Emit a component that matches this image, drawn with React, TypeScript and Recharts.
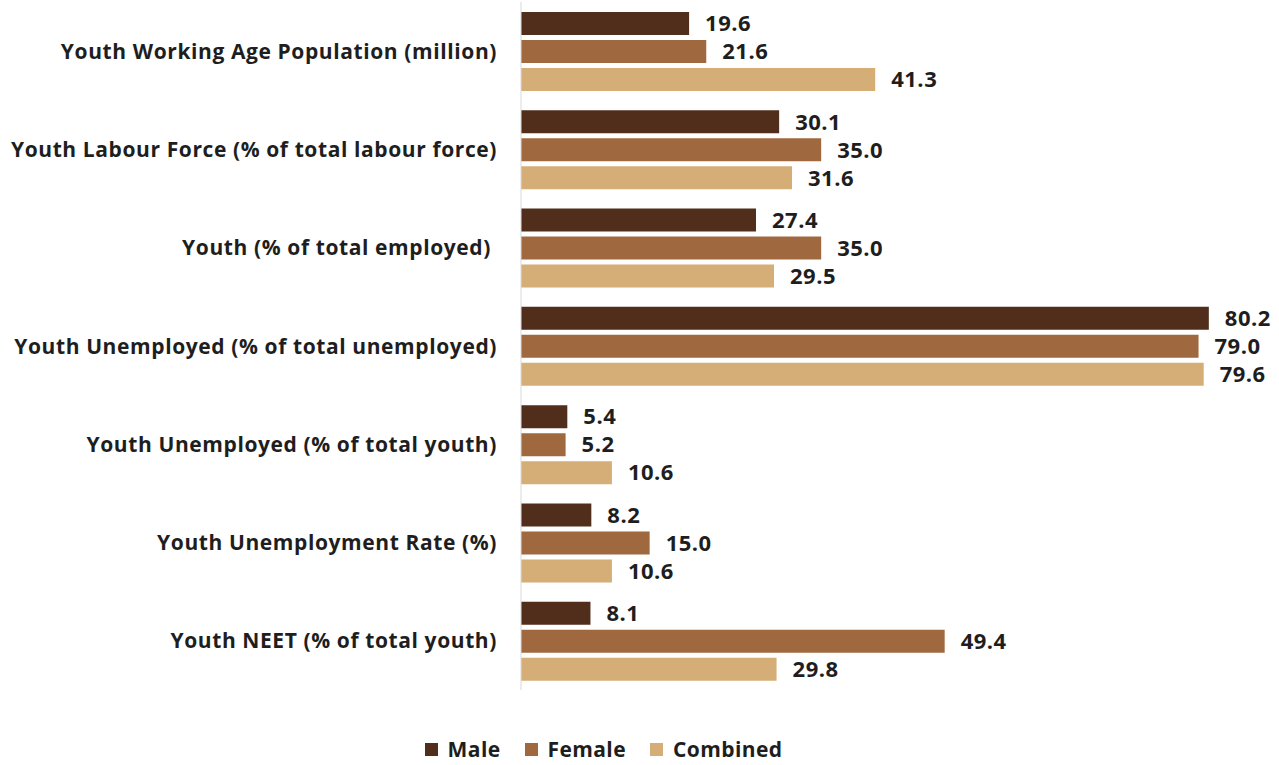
import { Bar, BarChart, LabelList, Legend, XAxis, YAxis } from "recharts";

const categories = [
  "Youth Working Age Population (million)",
  "Youth Labour Force (% of total labour force)",
  "Youth (% of total employed)\u00A0",
  "Youth Unemployed (% of total unemployed)",
  "Youth Unemployed (% of total youth)",
  "Youth Unemployment Rate (%)",
  "Youth NEET (% of total youth)",
];

const male = [19.6, 30.1, 27.4, 80.2, 5.4, 8.2, 8.1];
const female = [21.6, 35.0, 35.0, 79.0, 5.2, 15.0, 49.4];
const combined = [41.3, 31.6, 29.5, 79.6, 10.6, 10.6, 29.8];

const series = [
  { key: "male", name: "Male", color: "#512E1B" },
  { key: "female", name: "Female", color: "#A0683E" },
  { key: "combined", name: "Combined", color: "#D4AE76" },
];

const data = categories.map((name, i) => ({
  name,
  male: male[i],
  female: female[i],
  combined: combined[i],
}));

const FONT = "'Open Sans', Lato, sans-serif";
const TEXT = "#1E1E1E";

function CategoryTick(props: any) {
  const { x, y, payload } = props;
  return (
    <text
      x={x}
      y={y}
      dy="0.36em"
      textAnchor="end"
      fill={TEXT}
      fontFamily={FONT}
      fontWeight={700}
      fontSize={21}
      letterSpacing={0.6}
    >
      {payload.value}
    </text>
  );
}

function LegendContent() {
  return (
    <div
      style={{
        display: "flex",
        justifyContent: "center",
        gap: 24,
        paddingRight: 72,
        fontFamily: FONT,
        fontWeight: 700,
        fontSize: 21,
        letterSpacing: 0.4,
        color: TEXT,
      }}
    >
      {series.map((s) => (
        <div key={s.key} style={{ display: "flex", alignItems: "center" }}>
          <span
            style={{
              width: 13,
              height: 13,
              background: s.color,
              marginRight: 10,
              display: "inline-block",
            }}
          />
          {s.name}
        </div>
      ))}
    </div>
  );
}

export default function App() {
  return (
    <div style={{ position: "absolute", left: 0, top: 0, background: "#fff" }}>
      <BarChart
        width={1279}
        height={765}
        data={data}
        layout="vertical"
        margin={{ top: 2, right: 29, bottom: 0, left: 0 }}
        barSize={23}
        barGap={5}
      >
        <XAxis
          type="number"
          domain={[0, 85]}
          tick={false}
          axisLine={false}
          tickLine={false}
          height={45}
        />
        <YAxis
          type="category"
          dataKey="name"
          width={521}
          interval={0}
          tickLine={false}
          tickSize={6}
          tickMargin={18}
          axisLine={{ stroke: "#D9D9D9" }}
          tick={<CategoryTick />}
        />
        <Legend
          verticalAlign="bottom"
          height={30}
          wrapperStyle={{ left: 0, width: 1279 }}
          content={<LegendContent />}
        />
        {series.map((s) => (
          <Bar
            key={s.key}
            dataKey={s.key}
            name={s.name}
            fill={s.color}
            isAnimationActive={false}
          >
            <LabelList
              dataKey={s.key}
              position="right"
              offset={16}
              formatter={(v: any) => Number(v).toFixed(1)}
              fill={TEXT}
              fontFamily={FONT}
              fontWeight={700}
              fontSize={22}
              letterSpacing={0.5}
            />
          </Bar>
        ))}
      </BarChart>
    </div>
  );
}
